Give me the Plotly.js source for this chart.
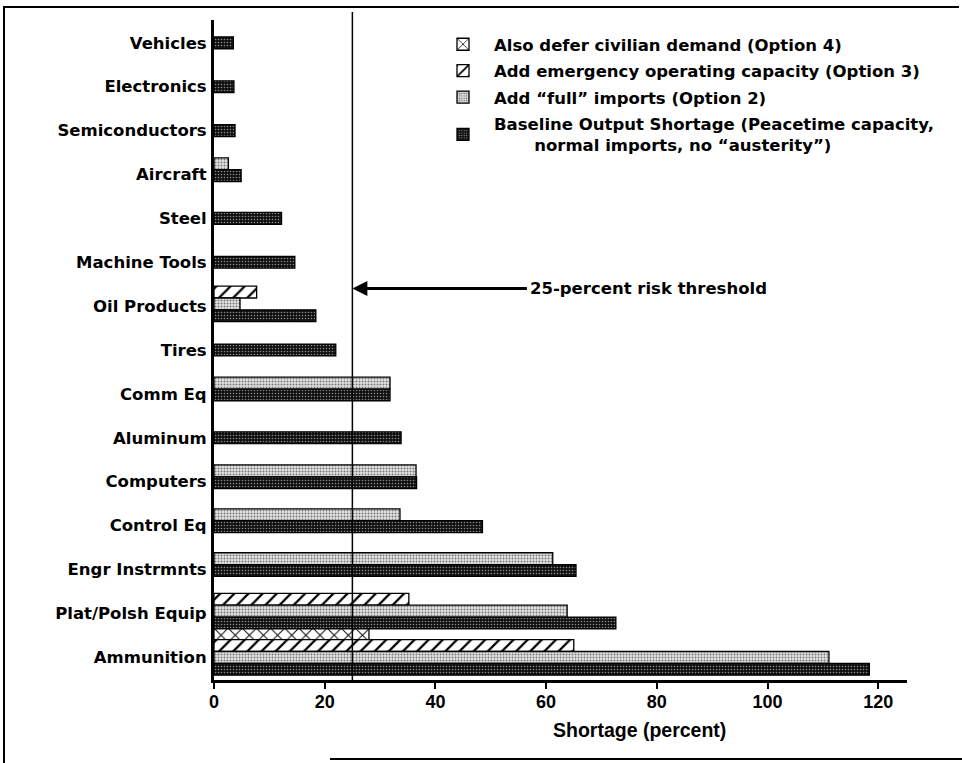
<!DOCTYPE html>
<html>
<head>
<meta charset="utf-8">
<script src="https://cdn.plot.ly/plotly-3.0.1.min.js"></script>
<style>
  html, body { margin: 0; padding: 0; background: #fff; }
  #wrap { position: relative; width: 962px; height: 763px; overflow: hidden; }
  #chart { width: 962px; height: 763px; }
  .frame { position: absolute; background: #000; pointer-events: none; }
</style>
</head>
<body>
<div id="wrap">
  <div id="chart"></div>
  <div class="frame" style="left:3px; top:6px; width:956px; height:2px;"></div>
  <div class="frame" style="left:3px; top:6px; width:2px; height:757px;"></div>
  <div class="frame" style="left:330px; top:758px; width:632px; height:2px;"></div>
</div>
<script>
// Categories, top to bottom
const categories = ["Vehicles", "Electronics", "Semiconductors", "Aircraft", "Steel",
  "Machine Tools", "Oil Products", "Tires", "Comm Eq", "Aluminum", "Computers",
  "Control Eq", "Engr Instrmnts", "Plat/Polsh Equip", "Ammunition"];

// Shortage (percent) by option
const option4 = [null, null, null, null, null, null, null, null, null, null, null, null, null, null, 28.0];
const option3 = [null, null, null, null, null, null, 7.7, null, null, null, null, null, null, 35.2, 65.0];
const option2 = [null, null, null, 2.6, null, null, 4.7, null, 31.8, null, 36.5, 33.6, 61.2, 63.8, 111.1];
const baseline = [3.5, 3.6, 3.8, 4.9, 12.2, 14.6, 18.4, 22.0, 31.8, 33.8, 36.6, 48.5, 65.4, 72.6, 118.4];

const seriesNames = [
  "Also defer civilian demand (Option 4)",
  "Add emergency operating capacity (Option 3)",
  "Add \u201cfull\u201d imports (Option 2)",
  "Baseline Output Shortage (Peacetime capacity,<br>" + "\u00a0".repeat(7) + "normal imports, no \u201causterity\u201d)"
];

const xTicks = [0, 20, 40, 60, 80, 100, 120];
const threshold = 25;

// ---- styling ----
const boldFont = {family: "DejaVu Sans, Arial, sans-serif", size: 16.5, weight: "bold", color: "#000"};
const axisFamily = "Liberation Sans, Arial, sans-serif";

const series = [option4, option3, option2, baseline];
const patterns = [
  {shape: "x", bgcolor: "#ffffff", fgcolor: "#000000", size: 10, solidity: 0.18, fillmode: "replace"},
  {shape: "/", bgcolor: "#ffffff", fgcolor: "#000000", size: 10, solidity: 0.22, fillmode: "replace"},
  {shape: ".", bgcolor: "#e4e4e4", fgcolor: "#777777", size: 3, solidity: 0.35, fillmode: "replace"},
  {shape: ".", bgcolor: "#101010", fgcolor: "#8a8a8a", size: 3, solidity: 0.22, fillmode: "replace"}
];

const barW = 0.27;
const groupShift = {1: 0, 2: -0.11, 3: -0.05, 4: -0.13};
// offsets so each category's present bars are stacked top-to-bottom around the category
const counts = categories.map((c, i) => series.filter(s => s[i] !== null).length);
const offsets = series.map(() => categories.map(() => 0));
categories.forEach((c, i) => {
  let k = 0;
  series.forEach((s, j) => {
    if (s[i] !== null) {
      offsets[j][i] = -counts[i] * barW / 2 + k * barW + groupShift[counts[i]];
      k++;
    }
  });
});

const traces = series.map((s, j) => ({
  type: "bar",
  orientation: "h",
  name: seriesNames[j],
  legendgroup: "g" + j,
  y: categories,
  x: s,
  width: barW,
  offset: offsets[j],
  marker: {color: patterns[j].bgcolor, pattern: patterns[j], line: {color: "#000", width: 1.3}},
  hoverinfo: "x+y+name"
}));

const plotL = 214, plotR = 907, plotT = 20, plotB = 680;
const arrowY = 5.6;

const layout = {
  width: 962, height: 763,
  margin: {l: plotL, r: 962 - plotR, t: plotT, b: 763 - plotB},
  paper_bgcolor: "#fff", plot_bgcolor: "#fff",
  barmode: "overlay",
  showlegend: true,
  legend: {
    x: (432 - plotL) / (plotR - plotL), y: (plotB - 27) / (plotB - plotT),
    xanchor: "left", yanchor: "top",
    traceorder: "grouped",
    tracegroupgap: 2,
    font: boldFont,
    bgcolor: "rgba(0,0,0,0)",
    itemwidth: 52
  },
  xaxis: {
    range: [0, 125.2],
    tickvals: xTicks,
    ticktext: xTicks.map(String),
    ticks: "outside", ticklen: 6, tickwidth: 2, tickcolor: "#000",
    showline: true, linewidth: 3, linecolor: "#000",
    showgrid: false, zeroline: false,
    tickfont: {family: axisFamily, size: 18, weight: "bold", color: "#000"},
    ticklabelstandoff: -3,
    fixedrange: true
  },
  yaxis: {
    type: "category",
    categoryorder: "array", categoryarray: categories,
    range: [14.52, -0.52],
    ticks: "", showline: true, linewidth: 3, linecolor: "#000",
    showgrid: false, zeroline: false,
    tickfont: boldFont,
    ticklabelstandoff: 1,
    fixedrange: true
  },
  shapes: [
    {type: "line", xref: "x", yref: "paper", x0: threshold, x1: threshold, y0: 0, y1: 1.012,
     line: {color: "#000", width: 1.5}}
  ],
  annotations: [
    {xref: "x", yref: "y", x: threshold, y: arrowY, axref: "x", ayref: "y",
     ax: 56.8, ay: arrowY, text: "", showarrow: true, arrowhead: 2, arrowsize: 1,
     arrowwidth: 3, arrowcolor: "#000", standoff: 0},
    {xref: "x", yref: "y", x: 56.8, y: arrowY, xanchor: "left", yanchor: "middle",
     text: threshold + "-percent risk threshold", showarrow: false, font: boldFont},
    {xref: "paper", yref: "paper", x: (639 - plotL) / (plotR - plotL), y: -(730 - plotB) / (plotB - plotT),
     xanchor: "center", yanchor: "middle", text: "Shortage (percent)", showarrow: false,
     font: {family: axisFamily, size: 19.5, weight: "bold", color: "#000"}}
  ]
};

Plotly.newPlot("chart", traces, layout, {displayModeBar: false, staticPlot: true});
</script>
</body>
</html>
